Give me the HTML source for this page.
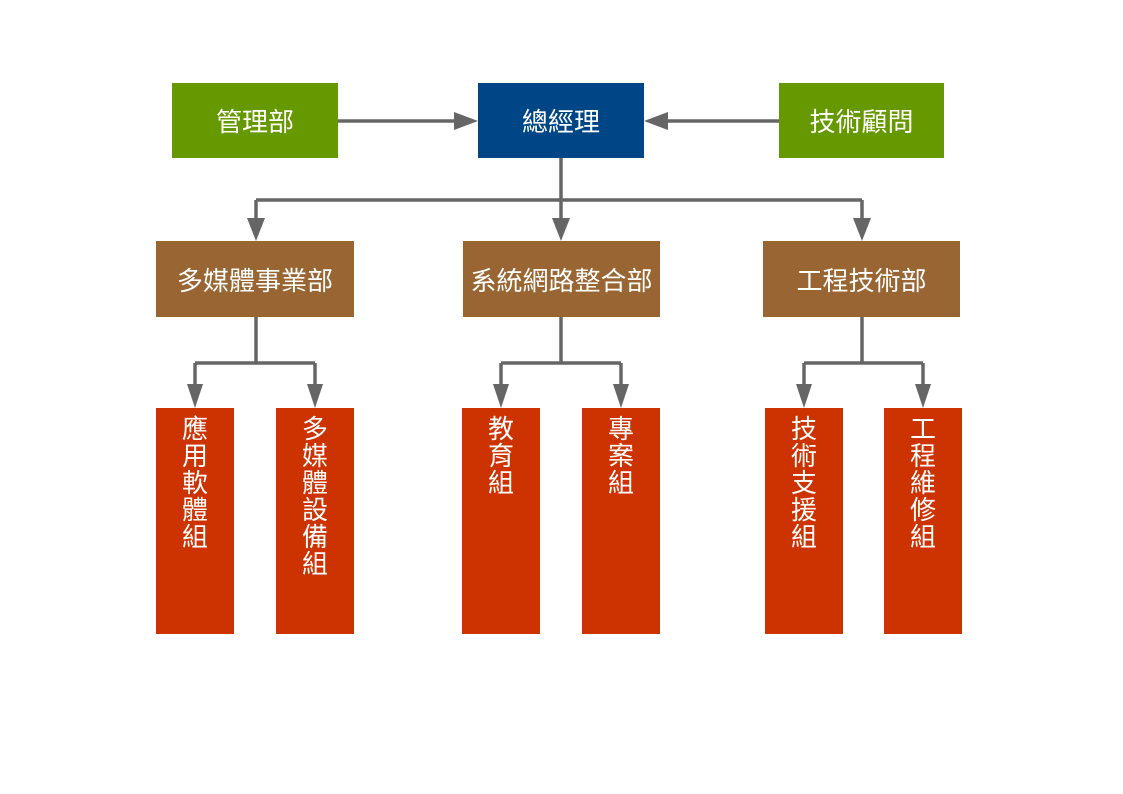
<!DOCTYPE html>
<html><head><meta charset="utf-8"><style>
body{margin:0;width:1123px;height:794px;background:#fff;position:relative;overflow:hidden;font-family:"Liberation Sans","Noto Sans CJK TC",sans-serif}
.b{position:absolute;color:#fff;display:flex;align-items:center;justify-content:center;font-size:26px}
.g{background:#669900}.bl{background:#004586}.br{background:#996633}
.r{position:absolute;background:#cc3300;color:#fff;font-size:26px;line-height:27px;text-align:center;width:78px;top:408px;height:226px;padding-top:8px;box-sizing:border-box}
svg{position:absolute;left:0;top:0}
</style></head><body>
<svg width="1123" height="794">
<g stroke="#666" stroke-width="3.5" fill="none">
<path d="M338 121H458M779 121H664M561 158V200M256 200H862M256 200V222M561 200V222M862 200V222"/>
<path d="M256 317V363M195 363H315M195 363V388M315 363V388"/>
<path d="M561 317V363M501 363H621M501 363V388M621 363V388"/>
<path d="M862 317V363M804 363H923M804 363V388M923 363V388"/>
</g>
<g fill="#666">
<polygon points="478,121 454,112 454,130"/>
<polygon points="644,121 668,112 668,130"/>
<polygon points="256,241 247,218 265,218"/>
<polygon points="561,241 552,218 570,218"/>
<polygon points="862,241 853,218 871,218"/>
<polygon points="195,408 187,384 203,384"/><polygon points="315,408 307,384 323,384"/>
<polygon points="501,408 493,384 509,384"/><polygon points="621,408 613,384 629,384"/>
<polygon points="804,408 796,384 812,384"/><polygon points="923,408 915,384 931,384"/>
</g>
</svg>
<div class="b g" style="left:172px;top:83px;width:166px;height:75px">管理部</div>
<div class="b bl" style="left:478px;top:83px;width:166px;height:75px">總經理</div>
<div class="b g" style="left:779px;top:83px;width:165px;height:75px">技術顧問</div>
<div class="b br" style="left:156px;top:241px;width:198px;height:76px">多媒體事業部</div>
<div class="b br" style="left:463px;top:241px;width:197px;height:76px">系統網路整合部</div>
<div class="b br" style="left:763px;top:241px;width:197px;height:76px">工程技術部</div>
<div class="r" style="left:156px">應<br>用<br>軟<br>體<br>組</div>
<div class="r" style="left:276px">多<br>媒<br>體<br>設<br>備<br>組</div>
<div class="r" style="left:462px">教<br>育<br>組</div>
<div class="r" style="left:582px">專<br>案<br>組</div>
<div class="r" style="left:765px">技<br>術<br>支<br>援<br>組</div>
<div class="r" style="left:884px">工<br>程<br>維<br>修<br>組</div>
</body></html>
